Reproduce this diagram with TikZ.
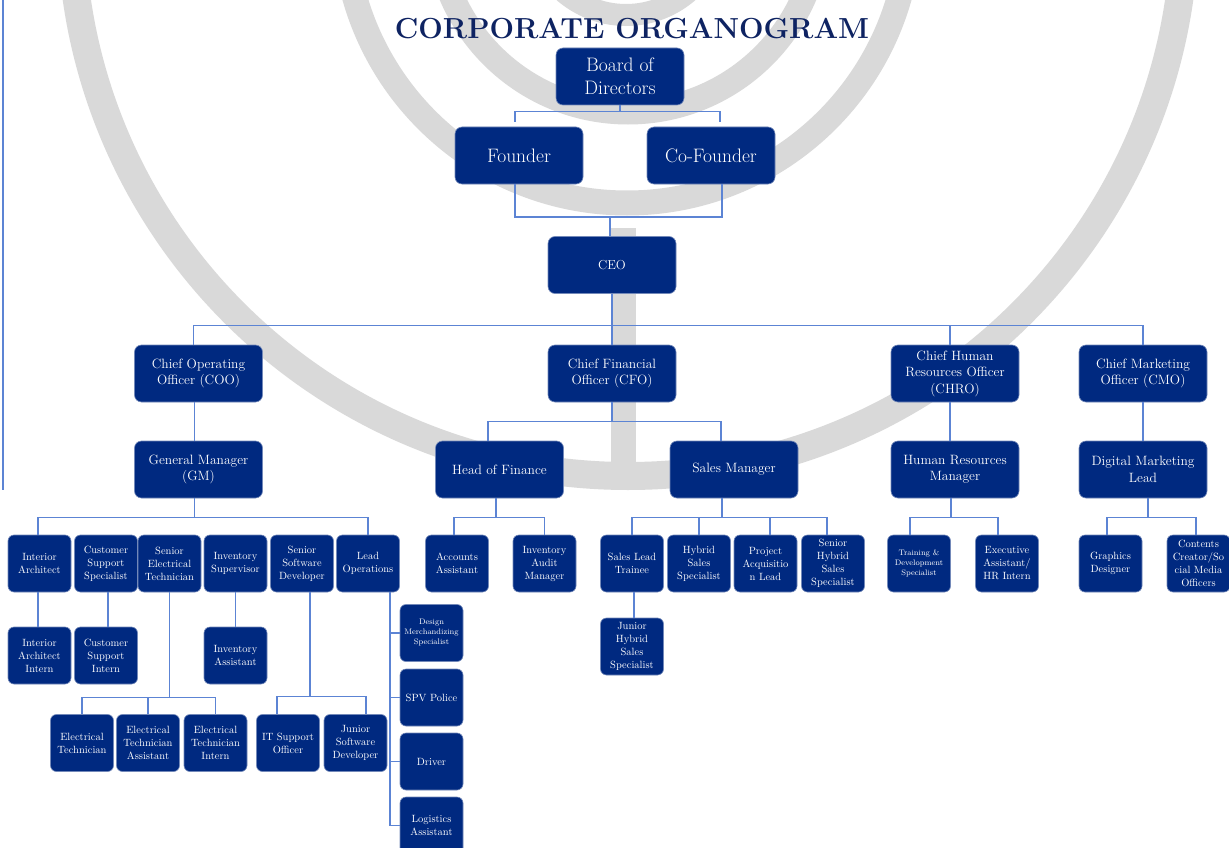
\documentclass[tikz,border=0pt]{standalone}
\definecolor{boxblue}{RGB}{0,41,128}
\definecolor{lineblue}{RGB}{92,132,212}
\definecolor{wmgray}{RGB}{217,217,217}
\definecolor{titleblue}{RGB}{14,35,98}
\begin{document}
\begin{tikzpicture}[x=1pt,y=-1pt,
  box/.style={draw=boxblue!55!white, line width=0.6pt, fill=boxblue, rounded corners=7pt, text=white, align=center, inner sep=1pt},
  big/.style={box, minimum width=128pt, minimum height=57pt, font=\fontsize{19.5}{23}\selectfont},
  lvl/.style={box, minimum width=128pt, minimum height=57pt, font=\fontsize{13.5}{16.5}\selectfont},
  sm/.style={box, rounded corners=6pt, minimum width=63pt, minimum height=57pt, font=\fontsize{10.5}{13}\selectfont},
  tinytext/.style={font=\fontsize{8}{10}\selectfont},
  conn/.style={draw=lineblue, line width=1.3pt},
  band/.style={draw=wmgray}
]
\useasboundingbox (0,0) rectangle (1229,848);
\clip (0,0) rectangle (1229,848);
\fill[white] (0,0) rectangle (1229,848);

% watermark
\draw[band, line width=28pt] (628,-81) circle[radius=557pt];
\draw[band, line width=25pt] (627,-80) circle[radius=283pt];
\draw[band, line width=25pt] (628,-80) circle[radius=192pt];
\draw[band, line width=22pt] (626,-80) circle[radius=95pt];
\fill[wmgray] (611,228) rectangle (636,472);

% left rule
\draw[lineblue, line width=1.4pt] (3,0) -- (3,490);

% title
\node[anchor=base, font=\fontsize{29}{29}\selectfont\bfseries, text=titleblue, inner sep=0pt] (title) at (632,39) {CORPORATE ORGANOGRAM};

% top
\node[big] (board) at (620,76.5) {Board of\\Directors};
\node[big] (founder) at (519,155.5) {Founder};
\node[big] (cofounder) at (711,155.5) {Co-Founder};
\node[big, font=\fontsize{13}{16}\selectfont] (ceo) at (612,265) {CEO};

% level 2
\node[lvl] (coo) at (198.5,373.5) {Chief Operating\\Officer (COO)};
\node[lvl] (cfo) at (612,373.5) {Chief Financial\\Officer (CFO)};
\node[lvl] (chro) at (955,373.5) {Chief Human\\Resources Officer\\(CHRO)};
\node[lvl] (cmo) at (1143,373.5) {Chief Marketing\\Officer (CMO)};

% level 3
\node[lvl] (gm) at (198.5,469.5) {General Manager\\(GM)};
\node[lvl] (hof) at (499.5,469.5) {Head of Finance};
\node[lvl] (sm) at (734,469.5) {Sales Manager};
\node[lvl] (hrm) at (955,469.5) {Human Resources\\Manager};
\node[lvl] (dml) at (1143,469.5) {Digital Marketing\\Lead};

% level 4
\node[sm] (ia) at (39.5,563.5) {Interior\\Architect};
\node[sm] (css) at (106,563.5) {Customer\\Support\\Specialist};
\node[sm] (set) at (169.5,563.5) {Senior\\Electrical\\Technician};
\node[sm] (is) at (235.5,563.5) {Inventory\\Supervisor};
\node[sm] (ssd) at (302,563.5) {Senior\\Software\\Developer};
\node[sm] (lo) at (368,563.5) {Lead\\Operations};
\node[sm] (aa) at (457,563.5) {Accounts\\Assistant};
\node[sm] (iam) at (544.5,563.5) {Inventory\\Audit\\Manager};
\node[sm] (slt) at (632,563.5) {Sales Lead\\Trainee};
\node[sm] (hss) at (699,563.5) {Hybrid\\Sales\\Specialist};
\node[sm] (pal) at (765.5,563.5) {Project\\Acquisitio\\n Lead};
\node[sm] (shss) at (833,563.5) {Senior\\Hybrid\\Sales\\Specialist};
\node[sm, tinytext] (tds) at (919,563.5) {Training \&\\Development\\Specialist};
\node[sm] (eahr) at (1007,563.5) {Executive\\Assistant/\\HR Intern};
\node[sm] (gd) at (1110.5,563.5) {Graphics\\Designer};
\node[sm] (cc) at (1198.5,563.5) {Contents\\Creator/So\\cial Media\\Officers};

% level 5
\node[sm] (iai) at (39.5,655.5) {Interior\\Architect\\Intern};
\node[sm] (csi) at (106,655.5) {Customer\\Support\\Intern};
\node[sm] (iast) at (235.5,655.5) {Inventory\\Assistant};
\node[sm] (jhss) at (632,646.5) {Junior\\Hybrid\\Sales\\Specialist};

% level 6
\node[sm] (et) at (82,743) {Electrical\\Technician};
\node[sm] (eta) at (148,743) {Electrical\\Technician\\Assistant};
\node[sm] (eti) at (215.5,743) {Electrical\\Technician\\Intern};
\node[sm] (itso) at (288,743) {IT Support\\Officer};
\node[sm] (jsd) at (355.5,743) {Junior\\Software\\Developer};

% operations column
\node[sm, tinytext] (dms) at (431.5,633) {Design\\Merchandizing\\Specialist};
\node[sm] (spv) at (431.5,697.5) {SPV Police};
\node[sm] (driver) at (431.5,761.5) {Driver};
\node[sm] (la) at (431.5,825.5) {Logistics\\Assistant};

% connectors
\draw[conn] (board.south) -- ++(0,6) -| ([xshift=-4pt,yshift=5pt]founder.north);
\draw[conn] (board.south) -- ++(0,6) -| ([xshift=9pt,yshift=5pt]cofounder.north);
\coordinate (fj) at (610,217);
\draw[conn] ([xshift=-4pt]founder.south) |- (fj) -- (ceo.north -| fj);
\draw[conn] ([xshift=11pt]cofounder.south) |- (fj);

\draw[conn] (ceo.south) -- ++(0,32) -| ([xshift=-5pt]coo.north);
\draw[conn] (ceo.south) -- (cfo.north);
\draw[conn] (ceo.south) -- ++(0,32) -| ([xshift=-5pt]chro.north);
\draw[conn] (ceo.south) -- ++(0,32) -| (cmo.north);

\draw[conn] ([xshift=-4pt]coo.south) -- ([xshift=-4pt]gm.north);
\draw[conn] (cfo.south) -- ++(0,19.5) -| ([xshift=-11.5pt]hof.north);
\draw[conn] (cfo.south) -- ++(0,19.5) -| ([xshift=-13pt]sm.north);
\draw[conn] ([xshift=-5pt]chro.south) -- ([xshift=-5pt]hrm.north);
\draw[conn] (cmo.south) -- (dml.north);

\draw[conn] ([xshift=-4pt]gm.south) -- ++(0,19) -| ([xshift=-1.5pt]ia.north);
\draw[conn] ([xshift=-4pt]gm.south) -- ++(0,19) -| (lo.north);
\draw[conn] ([xshift=-1.5pt]ia.south) -- ([xshift=-1.5pt]iai.north);
\draw[conn] ([xshift=2pt]css.south) -- ([xshift=2pt]csi.north);
\draw[conn] (is.south) -- (iast.north);
\draw[conn] (set.south) -- ++(0,105) -| (et.north);
\draw[conn] (set.south) -- ++(0,105) -| (eta.north);
\draw[conn] (set.south) -- ++(0,105) -| (eti.north);
\draw[conn] ([xshift=8pt]ssd.south) -- ++(0,104) -| ([xshift=-11pt]itso.north);
\draw[conn] ([xshift=8pt]ssd.south) -- ++(0,104) -| ([xshift=10.5pt]jsd.north);
\draw[conn] ([xshift=22pt]lo.south) |- (dms.west);
\draw[conn] ([xshift=22pt]lo.south) |- (spv.west);
\draw[conn] ([xshift=22pt]lo.south) |- (driver.west);
\draw[conn] ([xshift=22pt]lo.south) |- (la.west);

\draw[conn] ([xshift=-3.5pt]hof.south) -- ++(0,19) -| ([xshift=-3pt]aa.north);
\draw[conn] ([xshift=-3.5pt]hof.south) -- ++(0,19) -| (iam.north);
\draw[conn] ([xshift=-12pt]sm.south) -- ++(0,19) -| (slt.north);
\draw[conn] ([xshift=-12pt]sm.south) -- ++(0,19) -| (hss.north);
\draw[conn] ([xshift=-12pt]sm.south) -- ++(0,19) -| ([xshift=4.5pt]pal.north);
\draw[conn] ([xshift=-12pt]sm.south) -- ++(0,19) -| ([xshift=-6pt]shss.north);
\draw[conn] ([xshift=2pt]slt.south) -- ([xshift=2pt]jhss.north);
\draw[conn] ([xshift=-4pt]hrm.south) -- ++(0,19) -| ([xshift=-9pt]tds.north);
\draw[conn] ([xshift=-4pt]hrm.south) -- ++(0,19) -| ([xshift=-9pt]eahr.north);
\draw[conn] ([xshift=5pt]dml.south) -- ++(0,19) -| ([xshift=-3.5pt]gd.north);
\draw[conn] ([xshift=5pt]dml.south) -- ++(0,19) -| ([xshift=-2.5pt]cc.north);
\end{tikzpicture}
\end{document}
